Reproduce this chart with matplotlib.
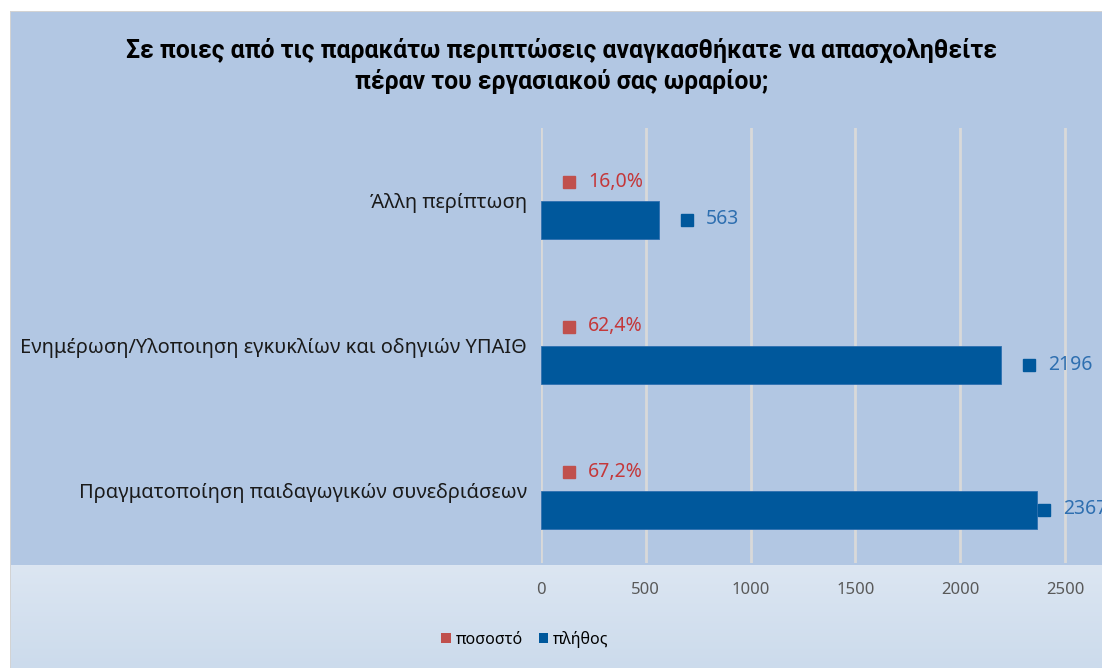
import numpy as np
import matplotlib.pyplot as plt
from matplotlib.patches import Rectangle, Patch

plt.rcParams['font.family'] = ['Noto Sans', 'DejaVu Sans']

### data (top to bottom as in the chart)
categories = ["Άλλη περίπτωση",
              "Ενημέρωση/Υλοποιηση εγκυκλίων και οδηγιών ΥΠΑΙΘ",
              "Πραγματοποίηση παιδαγωγικών συνεδριάσεων"]
counts = [563, 2196, 2367]
percents = [16.0, 62.4, 67.2]
series_names = ["ποσοστό", "πλήθος"]
xticks = [0, 500, 1000, 1500, 2000, 2500]

W, H = 1102, 668
red, red_txt = '#c0504d', '#c4383a'
blue, blue_txt = '#00589c', '#2e6fb0'
fill = '#b2c7e3'

fig = plt.figure(figsize=(W / 100, H / 100), dpi=100)
fig.patch.set_facecolor('white')

### chart frame and fills
fig.add_artist(Rectangle((10 / W, 0), 1, (H - 11) / H, transform=fig.transFigure,
                         facecolor='#d3d3d3', edgecolor='none', zorder=-5))
fig.add_artist(Rectangle((11 / W, 0), 1, (H - 12) / H, transform=fig.transFigure,
                         facecolor=fill, edgecolor='none', zorder=-4))
bg = fig.add_axes([11 / W, 0, 1 - 11 / W, (H - 565) / H], zorder=-3)
grad = np.linspace(0, 1, 100)[:, None]
c_top = np.array([220, 230, 242]) / 255
c_bot = np.array([204, 219, 236]) / 255
img = c_top[None, None, :] * (1 - grad[..., None]) + c_bot[None, None, :] * grad[..., None]
bg.imshow(img, aspect='auto', extent=(0, 1, 0, 1))
bg.axis('off')

### main axes
px_per_unit = 524 / 2500
ax = fig.add_axes([541 / W, (H - 563) / H, (W - 541) / W, 435 / H])
ax.set_facecolor('none')
ax.set_xlim(0, (W - 541) / px_per_unit)
n = len(categories)
ax.set_ylim(-0.5, n - 0.5)
ypos = np.arange(n)[::-1]
bh = 38 / 145

ax.barh(ypos + bh / 2, [p / 100 for p in percents], height=bh, color=red, zorder=3)
ax.barh(ypos - bh / 2, counts, height=bh, color=blue, edgecolor='#2e6fb0',
        linewidth=0.6, zorder=3)

for x in xticks:
    ax.axvline(x, color='#d9d9d9', lw=2, zorder=1)

off = 28 / px_per_unit
clamp = 2400
for y, p, c in zip(ypos, percents, counts):
    xp = min(p / 100 + off, clamp)
    ax.plot(xp, y + bh / 2, marker='s', ms=8, color=red, mec=red, zorder=4, clip_on=False)
    ax.text(xp + 19 / px_per_unit, y + bh / 2, f"{p:.1f}%".replace('.', ','),
            color=red_txt, fontsize=14, va='center', ha='left', clip_on=False)
    xc = min(c + off, clamp)
    ax.plot(xc, y - bh / 2, marker='s', ms=8, color=blue, mec=blue, zorder=4, clip_on=False)
    ax.text(xc + 19 / px_per_unit, y - bh / 2, str(c),
            color=blue_txt, fontsize=14, va='center', ha='left', clip_on=False)

ax.set_yticks(ypos)
ax.set_yticklabels(categories, fontsize=14.4, color='#1a1a1a')
ax.set_xticks(xticks)
ax.set_xticklabels([str(t) for t in xticks], fontsize=12, color='#595959')
ax.tick_params(axis='both', length=0)
ax.tick_params(axis='y', pad=10)
ax.tick_params(axis='x', pad=14)
for s in ax.spines.values():
    s.set_visible(False)

### title
title_font = dict(ha='center', va='center', fontsize=17.8, fontweight='bold',
                  color='black', family=['Roboto', 'DejaVu Sans'])
fig.text(562 / W, (H - 50) / H,
         "Σε ποιες από τις παρακάτω περιπτώσεις αναγκασθήκατε να απασχοληθείτε",
         **title_font)
fig.text(562 / W, (H - 82) / H, "πέραν του εργασιακού σας ωραρίου;", **title_font)

### legend
handles = [Patch(facecolor=red, edgecolor='none'), Patch(facecolor=blue, edgecolor='none')]
fig.legend(handles, series_names, loc='center', bbox_to_anchor=(525 / W, (H - 639) / H),
           ncol=2, frameon=False, fontsize=11.5, handlelength=0.6, handleheight=0.6,
           handletextpad=0.3, columnspacing=1.0)

fig.savefig('out.png', dpi=100)
